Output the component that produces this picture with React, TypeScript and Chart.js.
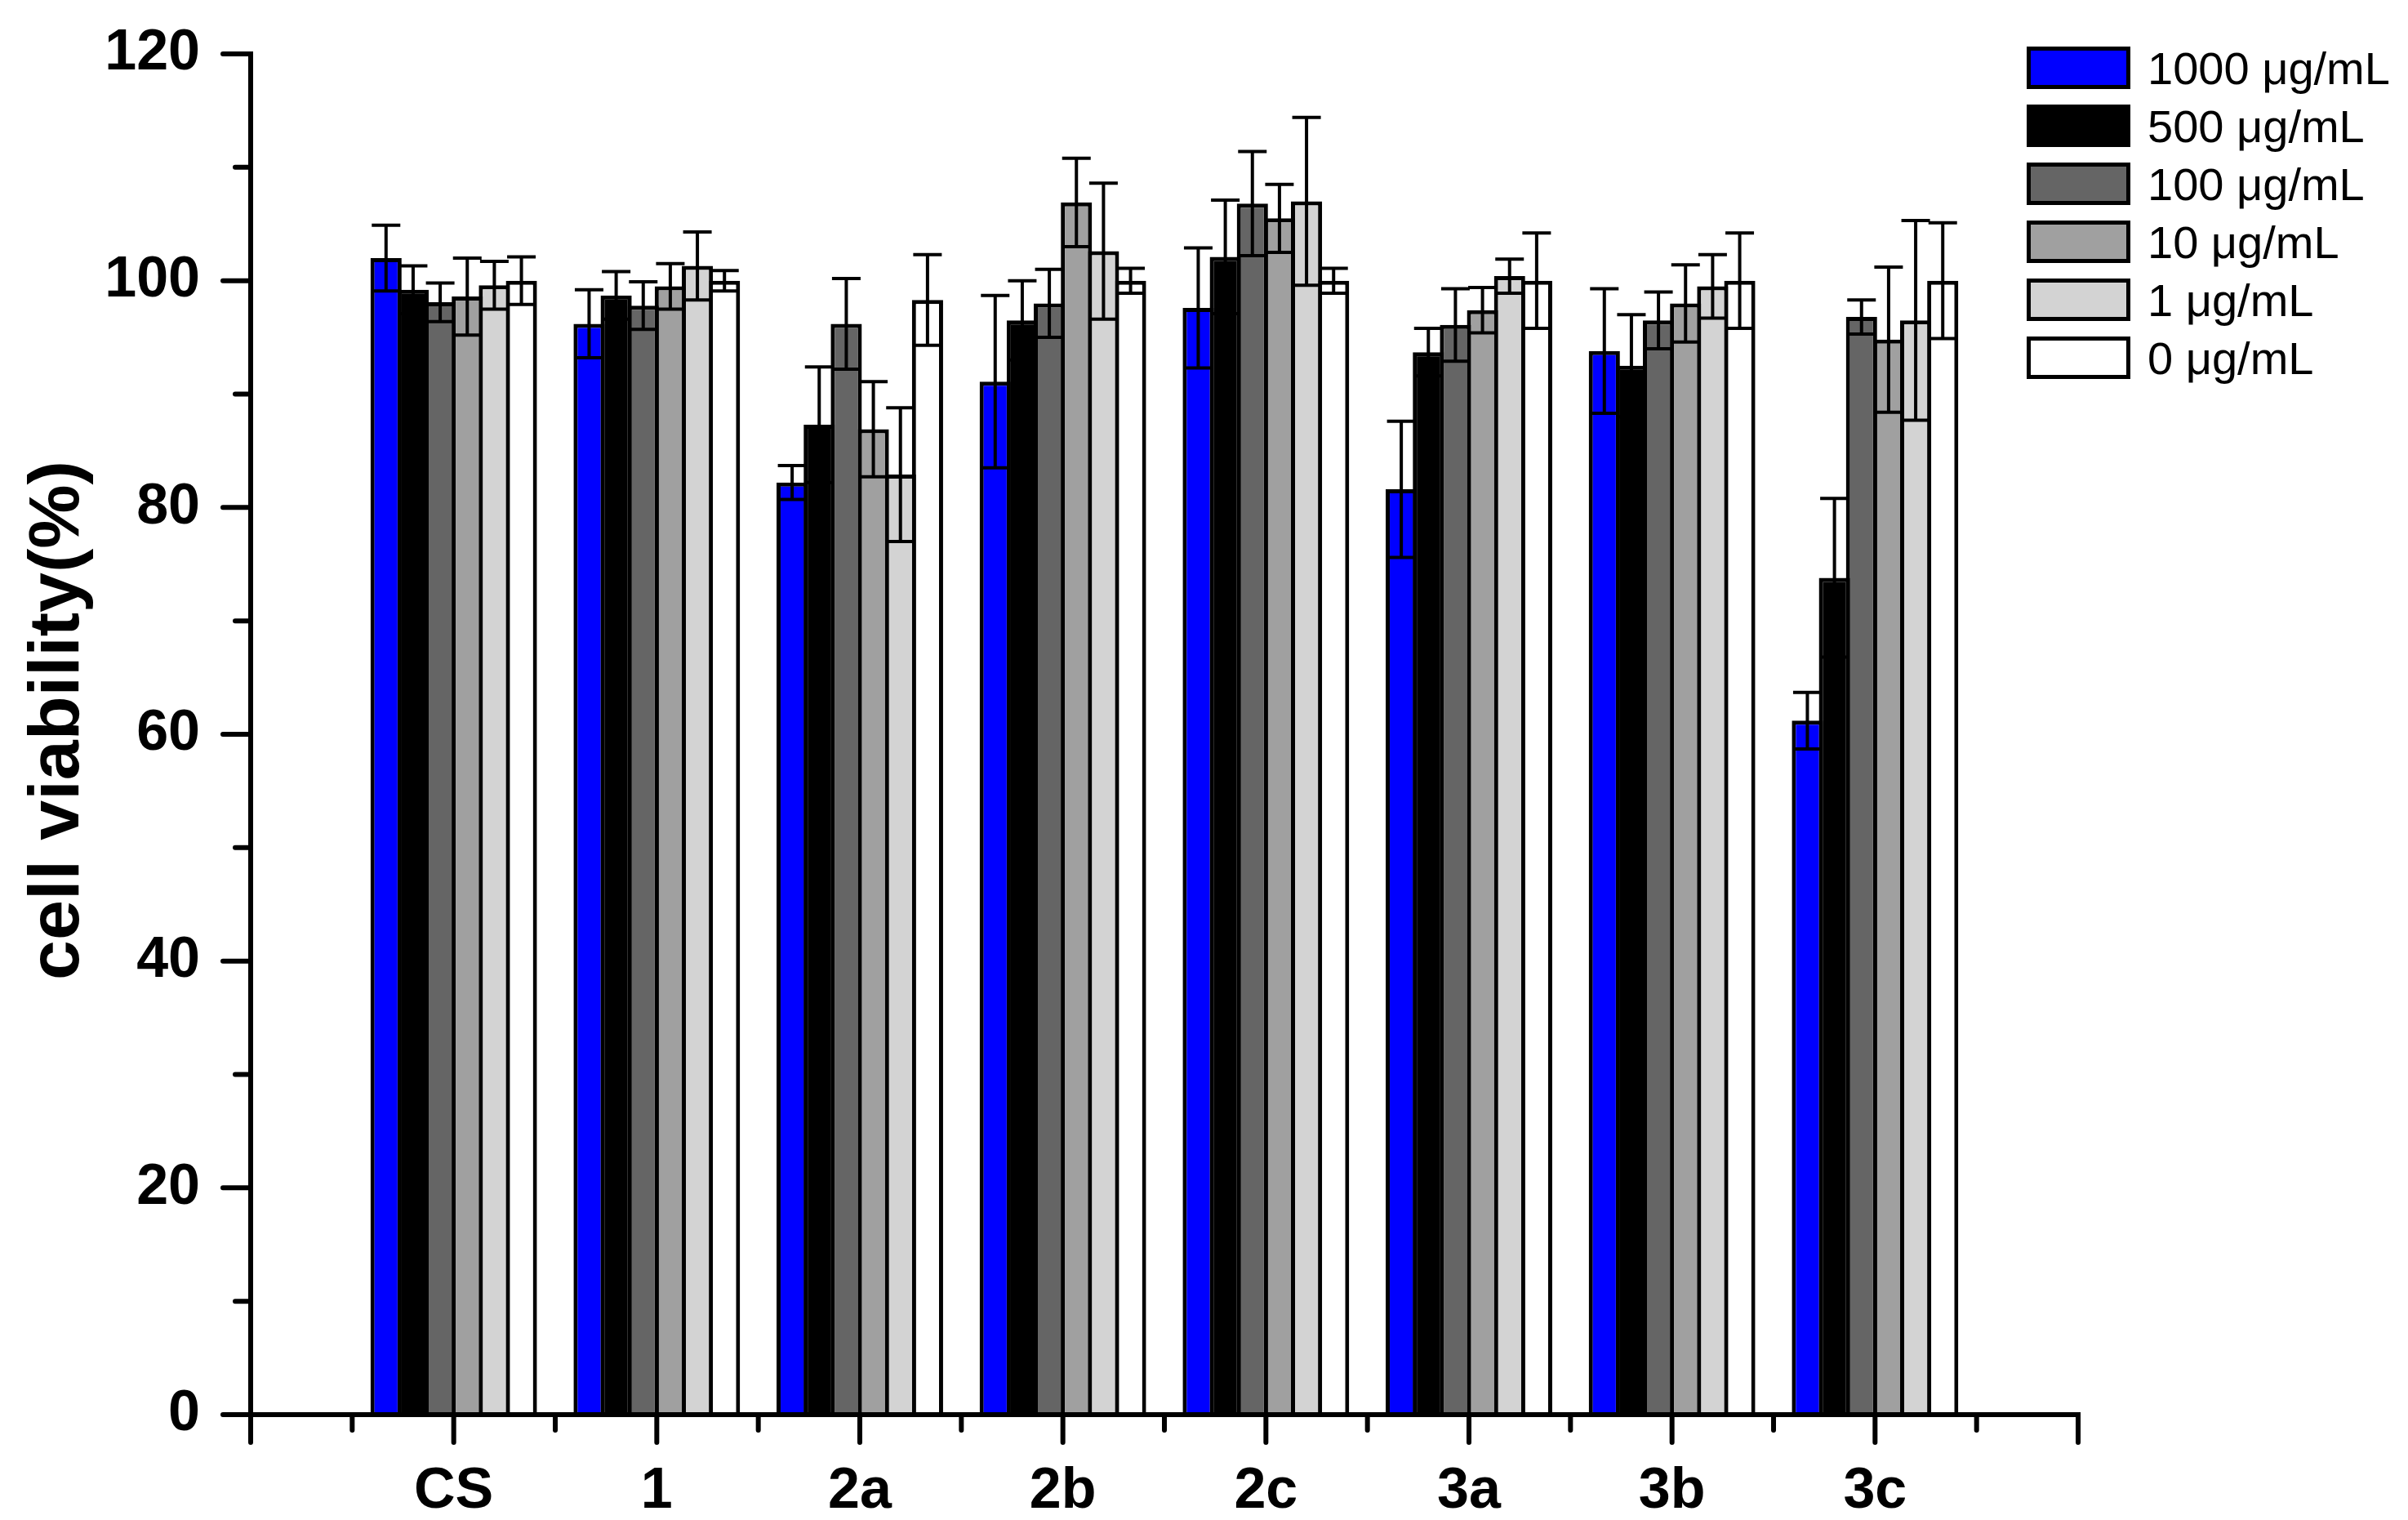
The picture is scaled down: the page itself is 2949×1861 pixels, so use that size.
import React, { useEffect, useRef } from 'react';
import { Chart, registerables } from 'chart.js';

Chart.register(...registerables);

// ---- data ----
const categories = ['', 'CS', '1', '2a', '2b', '2c', '3a', '3b', '3c', ''];
const seriesLabels = ['1000 μg/mL', '500 μg/mL', '100 μg/mL', '10 μg/mL', '1 μg/mL', '0 μg/mL'];
const seriesColors = ['#0000FF', '#000000', '#656565', '#A0A0A0', '#D3D3D3', '#FFFFFF'];

const v1000 = [null, 102.0, 96.2, 82.2, 91.1, 97.6, 81.6, 93.8, 61.2, null];
const e1000 = [null, 2.9, 3.0, 1.5, 7.6, 5.3, 6.0, 5.5, 2.5, null];
const v500 = [null, 99.2, 98.7, 87.3, 96.5, 102.1, 93.7, 92.5, 73.8, null];
const e500 = [null, 2.1, 2.1, 5.1, 3.5, 5.0, 2.1, 4.5, 7.0, null];
const v100 = [null, 98.1, 97.8, 96.2, 98.0, 106.8, 96.1, 96.5, 96.8, null];
const e100 = [null, 1.7, 2.1, 4.0, 3.0, 4.6, 3.2, 2.5, 1.5, null];
const v10 = [null, 98.6, 99.5, 86.9, 106.9, 105.5, 97.4, 98.0, 94.8, null];
const e10 = [null, 3.4, 2.0, 4.2, 3.9, 3.0, 2.0, 3.4, 6.4, null];
const v1 = [null, 99.6, 101.3, 82.9, 102.6, 107.0, 100.4, 99.5, 96.5, null];
const e1 = [null, 2.1, 3.0, 5.9, 6.0, 7.4, 1.5, 2.8, 8.8, null];
const v0 = [null, 100.0, 100.0, 98.3, 100.0, 100.0, 100.0, 100.0, 100.0, null];
const e0 = [null, 2.1, 0.9, 4.0, 1.1, 1.1, 4.2, 4.2, 5.1, null];

const yMin = 0;
const yMax = 120;
const yStep = 20;
const yTitle = 'cell viability(%)';

const values = [v1000, v500, v100, v10, v1, v0];
const errors = [e1000, e500, e100, e10, e1, e0];

const FONT = '"Liberation Sans", Arial, sans-serif';
const W = 2949;
const H = 1861;

export default function App() {
  const ref = useRef<HTMLCanvasElement | null>(null);

  useEffect(() => {
    document.body.style.margin = '0';
    const canvas = ref.current;
    if (!canvas) return;

    const custom = {
      id: 'custom',
      afterDatasetsDraw(chart: any) {
        const ctx = chart.ctx;
        const ys = chart.scales.y;
        ctx.save();
        ctx.strokeStyle = '#000';
        ctx.lineWidth = 4;
        ctx.lineCap = 'butt';
        errors.forEach((err, di) => {
          const meta = chart.getDatasetMeta(di);
          meta.data.forEach((el: any, j: number) => {
            const v = values[di][j];
            const e = err[j];
            if (v == null || e == null) return;
            const x = el.x;
            const yt = ys.getPixelForValue(v + e);
            const yb = ys.getPixelForValue(v - e);
            const hw = 17.5;
            ctx.beginPath();
            ctx.moveTo(x, yt);
            ctx.lineTo(x, yb);
            ctx.moveTo(x - hw, yt);
            ctx.lineTo(x + hw, yt);
            ctx.moveTo(x - hw, yb);
            ctx.lineTo(x + hw, yb);
            ctx.stroke();
          });
        });
        ctx.restore();
      },
      afterDraw(chart: any) {
        const ctx = chart.ctx;
        const xs = chart.scales.x;
        const ys = chart.scales.y;
        const x0 = xs.getPixelForValue(0);
        const x1 = xs.getPixelForValue(categories.length - 1);
        const y0 = ys.getPixelForValue(yMin);
        const yTop = ys.getPixelForValue(yMax);
        ctx.save();
        ctx.strokeStyle = '#000';
        ctx.lineWidth = 6;
        ctx.lineCap = 'square';
        ctx.beginPath();
        ctx.moveTo(x0, yTop);
        ctx.lineTo(x0, y0);
        ctx.lineTo(x1, y0);
        ctx.stroke();
        ctx.lineCap = 'round';
        ctx.beginPath();
        for (let v = yMin; v <= yMax; v += yStep / 2) {
          const py = ys.getPixelForValue(v);
          const len = Math.round(v) % yStep === 0 ? 34 : 19;
          ctx.moveTo(x0, py);
          ctx.lineTo(x0 - len, py);
        }
        for (let i = 0; i < categories.length; i++) {
          const px = xs.getPixelForValue(i);
          ctx.moveTo(px, y0);
          ctx.lineTo(px, y0 + 34);
          if (i < categories.length - 1) {
            const pm = (px + xs.getPixelForValue(i + 1)) / 2;
            ctx.moveTo(pm, y0);
            ctx.lineTo(pm, y0 + 19);
          }
        }
        ctx.stroke();

        // y title
        ctx.save();
        ctx.translate(72, 882);
        ctx.rotate(-Math.PI / 2);
        ctx.fillStyle = '#000';
        ctx.font = `bold 88px ${FONT}`;
        ctx.textAlign = 'center';
        ctx.textBaseline = 'middle';
        ctx.fillText(yTitle, 0, 0);
        ctx.restore();

        // legend
        const lx = 2482;
        const bw = 127;
        const bh = 52;
        const b = 5;
        seriesLabels.forEach((lab, i) => {
          const top = 57 + i * 71;
          ctx.fillStyle = '#000';
          ctx.fillRect(lx, top, bw, bh);
          ctx.fillStyle = seriesColors[i];
          ctx.fillRect(lx + b, top + b, bw - 2 * b, bh - 2 * b);
          ctx.fillStyle = '#000';
          ctx.font = `56px ${FONT}`;
          ctx.textAlign = 'left';
          ctx.textBaseline = 'alphabetic';
          ctx.fillText(lab, 2630, top + bh / 2 + 20);
        });
        ctx.restore();
      },
    };

    const chart = new Chart(canvas, {
      type: 'bar',
      data: {
        labels: categories,
        datasets: values.map((vals, i) => ({
          label: seriesLabels[i],
          data: vals as any,
          backgroundColor: seriesColors[i],
          borderColor: '#000000',
          borderWidth: 5,
          borderSkipped: 'start' as any,
          categoryPercentage: 0.8,
          barPercentage: 1.151,
        })),
      },
      options: {
        responsive: false,
        animation: false,
        devicePixelRatio: 1,
        layout: { padding: { left: 0, top: 66, right: W - 2545, bottom: 0 } },
        plugins: {
          legend: { display: false },
          tooltip: { enabled: false },
          title: { display: false },
        },
        scales: {
          x: {
            type: 'category',
            offset: false,
            grid: { display: false },
            border: { display: false },
            ticks: {
              autoSkip: false,
              maxRotation: 0,
              minRotation: 0,
              padding: 45,
              color: '#000',
              font: { family: FONT, size: 70, weight: 'bold' },
            },
            afterFit: (s: any) => {
              s.height = H - 1732;
              s.paddingLeft = 0;
              s.paddingRight = 0;
            },
          },
          y: {
            min: yMin,
            max: yMax,
            grid: { display: false },
            border: { display: false },
            ticks: {
              stepSize: yStep,
              padding: 54,
              color: '#000',
              font: { family: FONT, size: 70, weight: 'bold' },
            },
            afterFit: (s: any) => {
              s.width = 307;
              s.paddingTop = 0;
              s.paddingBottom = 0;
            },
          },
        },
      },
      plugins: [custom],
    });

    return () => chart.destroy();
  }, []);

  return (
    <div style={{ width: W, height: H, background: '#fff' }}>
      <canvas ref={ref} width={W} height={H} style={{ display: 'block' }} />
    </div>
  );
}
